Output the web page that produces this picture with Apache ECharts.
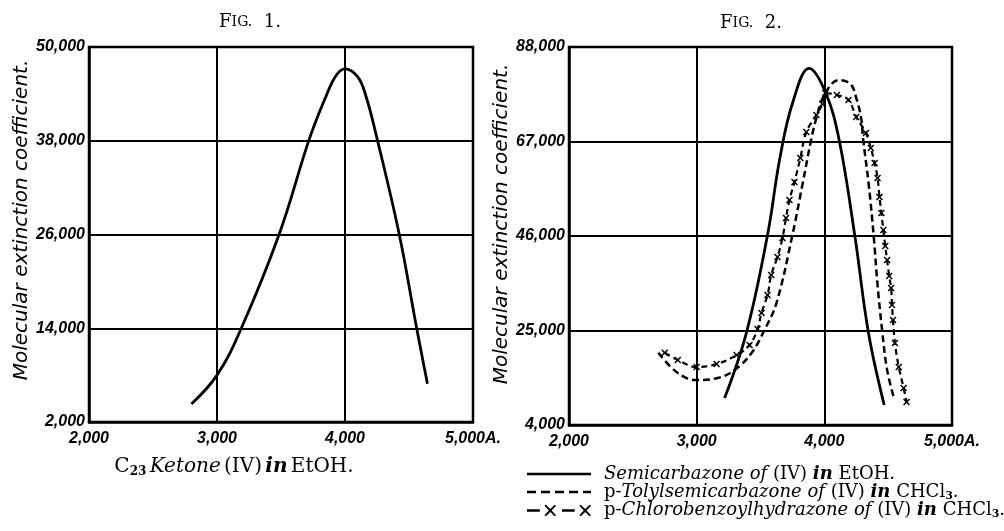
<!DOCTYPE html>
<html>
<head>
<meta charset="utf-8">
<script src="https://cdn.jsdelivr.net/npm/echarts@6/dist/echarts.min.js"></script>
<style>
  html, body { margin: 0; padding: 0; background: #fff; }
  #chart { width: 1004px; height: 531px; }
</style>
</head>
<body>
<div id="chart"></div>
<script>
// wavelength ticks (A.), same on both figures
const waveTicks = [2000, 3000, 4000, 5000];
// extinction coefficient ticks
const fig1Ticks = [2000, 14000, 26000, 38000, 50000];
const fig2Ticks = [4000, 25000, 46000, 67000, 88000];

// Fig. 1: C23 ketone (IV) in EtOH  [wavelength, coefficient]
const ketone = [
  [2800, 4300], [3000, 8000], [3190, 14000], [3485, 26000], [3723, 38300],
  [3856, 43860], [3933, 46420], [4000, 47200], [4098, 46200], [4161, 43860],
  [4250, 38300], [4424, 26000], [4560, 14000], [4644, 6900]
];

// Fig. 2
const semicarbazone = [
  [3219, 10000], [3391, 24660], [3555, 46220], [3652, 63330], [3754, 75840],
  [3882, 83260], [4008, 78000], [4113, 67770], [4238, 46220], [4346, 24440],
  [4469, 8440]
];
const tolyl = [
  [2700, 20070], [2850, 15600], [3000, 14000], [3164, 14440], [3297, 16220],
  [3430, 20000], [3531, 25110], [3625, 31110], [3750, 46220], [3828, 57330],
  [3898, 67550], [3938, 72220], [4000, 77330], [4114, 80660], [4205, 79770],
  [4250, 76660], [4288, 72220], [4303, 67770], [4348, 57330], [4386, 46220],
  [4417, 35110], [4455, 24440], [4492, 16200], [4545, 10000]
];
const chloro = [
  [2750, 20070], [2852, 18440], [3000, 16890], [3156, 17550], [3313, 19550],
  [3414, 21780], [3477, 25330], [3508, 28890], [3555, 32890], [3584, 37330],
  [3633, 41330], [3672, 45550], [3700, 50000], [3727, 54000], [3766, 58000],
  [3812, 63330], [3859, 69110], [3938, 72890], [3984, 75330], [4008, 77770],
  [4098, 77330], [4189, 76220], [4250, 72440], [4326, 68900], [4364, 65560],
  [4394, 62230], [4417, 58900], [4432, 54660], [4447, 51110], [4462, 47330],
  [4477, 43780], [4492, 40660], [4508, 37110], [4523, 34440], [4530, 30660],
  [4538, 27330], [4553, 22220], [4583, 16890], [4621, 12220], [4644, 9110]
];

const seriesNames = ['semi', 'tolyl', 'chloro'];
const legendLabels = [
  '{i|Semicarbazone of} {n|(IV)} {bi|in} {n|EtOH.}',
  '{n|p-}{i|Tolylsemicarbazone of} {n|(IV)} {bi|in} {n|CHCl}{sub|3}{n|.}',
  '{n|p-}{i|Chlorobenzoylhydrazone of} {n|(IV)} {bi|in} {n|CHCl}{sub|3}{n|.}'
];

const serif = "'DejaVu Serif', 'Liberation Serif', serif";
const sans = "'Liberation Sans', 'DejaVu Sans', sans-serif";

// X shaped marker for the chloro curve
const crossMark = 'path://M0,1.5L1.5,0L5,3.5L8.5,0L10,1.5L6.5,5L10,8.5L8.5,10L5,6.5L1.5,10L0,8.5L3.5,5Z';
// legend samples
const solidIcon = 'path://M0,0H64V2.4H0Z';
const dashIcon = 'path://M0,0H9V2.4H0ZM14,0H23V2.4H14ZM28,0H37V2.4H28ZM42,0H51V2.4H42ZM56,0H64V2.4H56Z';
const crossIcon = 'path://M0,4H11V6H0Z' +
  'M15,1L16.2,0L20,3.8L23.8,0L25,1L21.2,5L25,9L23.8,10L20,6.2L16.2,10L15,9L18.8,5Z' +
  'M30,4H41V6H30Z' +
  'M45,1L46.2,0L50,3.8L53.8,0L55,1L51.2,5L55,9L53.8,10L50,6.2L46.2,10L45,9L48.8,5Z';

function fmt(v) {
  return String(v).replace(/\B(?=(\d{3})+(?!\d))/g, ',');
}

const tickFont = {
  color: '#000',
  fontFamily: sans,
  fontStyle: 'italic',
  fontWeight: 'bold',
  fontSize: 16
};

function xAxisFor(gi) {
  return {
    type: 'value',
    gridIndex: gi,
    min: waveTicks[0],
    max: waveTicks[waveTicks.length - 1],
    interval: waveTicks[1] - waveTicks[0],
    axisLine: { show: true, lineStyle: { color: '#000', width: 2.5 } },
    axisTick: { show: false },
    splitLine: { show: true, lineStyle: { color: '#000', width: 2 } },
    axisLabel: Object.assign({
      margin: 9,
      formatter: v => v === waveTicks[waveTicks.length - 1] ? fmt(v) + 'A.' : fmt(v)
    }, tickFont)
  };
}

function yAxisFor(gi, ticks) {
  return {
    type: 'value',
    gridIndex: gi,
    min: ticks[0],
    max: ticks[ticks.length - 1],
    interval: ticks[1] - ticks[0],
    axisLine: { show: true, lineStyle: { color: '#000', width: 2.5 } },
    axisTick: { show: false },
    splitLine: { show: true, lineStyle: { color: '#000', width: 2 } },
    axisLabel: Object.assign({ margin: 4, formatter: v => fmt(v) }, tickFont)
  };
}

const richLegend = {
  n: { fontFamily: serif, fontSize: 18, color: '#000' },
  i: { fontFamily: serif, fontSize: 18, fontStyle: 'italic', color: '#000' },
  bi: { fontFamily: serif, fontSize: 18, fontStyle: 'italic', fontWeight: 'bold', color: '#000' },
  sub: { fontFamily: serif, fontSize: 11, fontWeight: 'bold', color: '#000', padding: [8, 0, 0, 0] }
};

const figTitle = {
  a: { fontFamily: serif, fontSize: 18, fill: '#000' },
  b: { fontFamily: serif, fontSize: 14, fill: '#000' }
};

const yName = {
  text: 'Molecular extinction coefficient.', align: 'center', verticalAlign: 'middle',
  fontFamily: "'DejaVu Sans', sans-serif", fontStyle: 'italic', fontSize: 20, fill: '#000'
};

const chart = echarts.init(document.getElementById('chart'));
chart.setOption({
  backgroundColor: '#fff',
  animation: false,
  grid: [
    { left: 89, top: 47, width: 384, height: 375, show: true, borderColor: '#000', borderWidth: 2.5 },
    { left: 569, top: 47, width: 383, height: 378, show: true, borderColor: '#000', borderWidth: 2.5 }
  ],
  xAxis: [xAxisFor(0), xAxisFor(1)],
  yAxis: [yAxisFor(0, fig1Ticks), yAxisFor(1, fig2Ticks)],
  legend: {
    orient: 'vertical',
    left: 522,
    top: 460,
    itemWidth: 64,
    itemHeight: 12,
    itemGap: 0,
    selectedMode: false,
    itemStyle: { color: '#000', borderWidth: 0 },
    data: [
      { name: 'semi', icon: solidIcon },
      { name: 'tolyl', icon: dashIcon },
      { name: 'chloro', icon: crossIcon }
    ],
    formatter: name => legendLabels[seriesNames.indexOf(name)],
    textStyle: { color: '#000', fontFamily: serif, fontSize: 18, lineHeight: 17.5, padding: [0, 0, 0, 8], rich: richLegend }
  },
  graphic: [
    {
      type: 'text', x: 250, y: 22,
      style: { text: '{a|F}{b|IG.}{a|  1.}', align: 'center', verticalAlign: 'middle', rich: figTitle }
    },
    {
      type: 'text', x: 751, y: 23,
      style: { text: '{a|F}{b|IG.}{a|  2.}', align: 'center', verticalAlign: 'middle', rich: figTitle }
    },
    {
      type: 'text', x: 234, y: 467,
      style: {
        text: '{n|C}{sub|23} {i|Ketone} {n|(IV)} {bi|in} {n|EtOH.}', align: 'center', verticalAlign: 'middle',
        rich: {
          n: { fontFamily: serif, fontSize: 20, fill: '#000' },
          i: { fontFamily: serif, fontSize: 20, fontStyle: 'italic', fill: '#000' },
          bi: { fontFamily: serif, fontSize: 20, fontStyle: 'italic', fontWeight: 'bold', fill: '#000' },
          sub: { fontFamily: serif, fontSize: 12, fontWeight: 'bold', fill: '#000', padding: [9, 0, 0, 0] }
        }
      }
    },
    { type: 'text', x: 22, y: 220, rotation: Math.PI / 2, style: yName },
    { type: 'text', x: 502, y: 224, rotation: Math.PI / 2, style: yName }
  ],
  series: [
    {
      name: 'ketone', type: 'line', xAxisIndex: 0, yAxisIndex: 0,
      data: ketone, smooth: 0.4, symbol: 'none',
      lineStyle: { color: '#000', width: 2.8 }
    },
    {
      name: 'semi', type: 'line', xAxisIndex: 1, yAxisIndex: 1,
      data: semicarbazone, smooth: 0.4, symbol: 'none',
      itemStyle: { color: '#000' },
      lineStyle: { color: '#000', width: 2.8 }
    },
    {
      name: 'tolyl', type: 'line', xAxisIndex: 1, yAxisIndex: 1,
      data: tolyl, smooth: 0.4, symbol: 'none',
      itemStyle: { color: '#000' },
      lineStyle: { color: '#000', width: 2.5, type: [7, 4] }
    },
    {
      name: 'chloro', type: 'line', xAxisIndex: 1, yAxisIndex: 1,
      data: chloro, smooth: 0.4, symbol: crossMark, symbolSize: 7, showAllSymbol: true,
      itemStyle: { color: '#000', borderWidth: 0 },
      lineStyle: { color: '#000', width: 2.2, type: [6, 4] }
    }
  ]
});
</script>
</body>
</html>
